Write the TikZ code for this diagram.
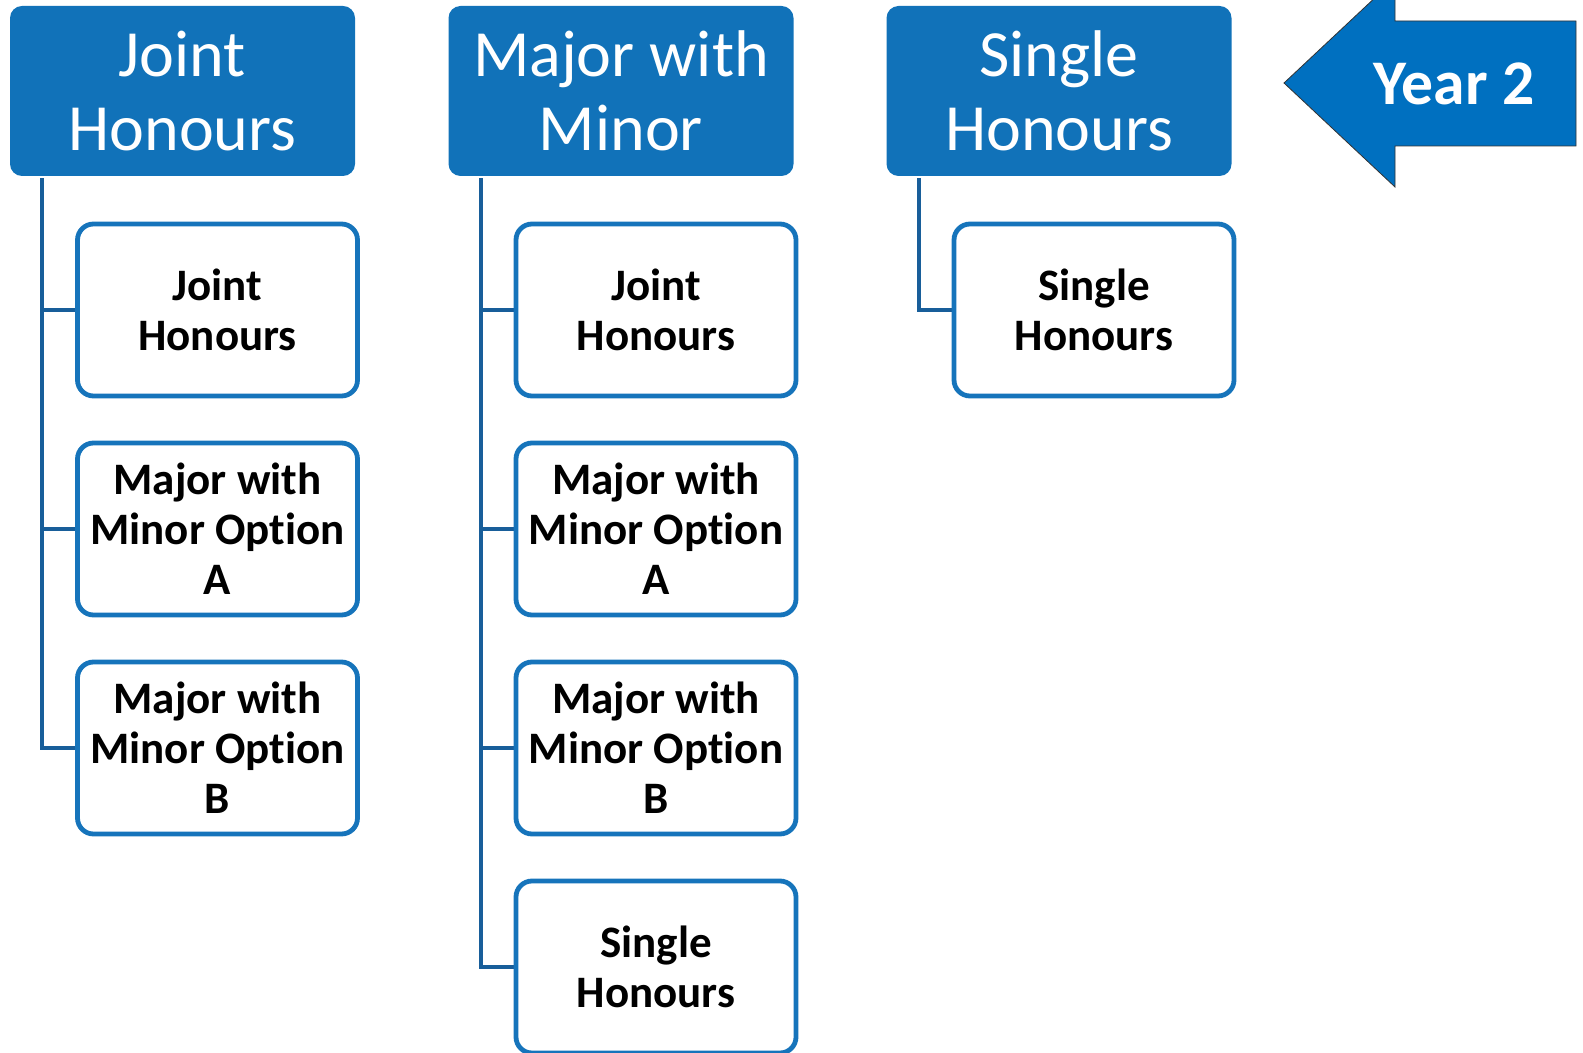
\documentclass[tikz,border=0pt]{standalone}
\usepackage{fontspec}
\setmainfont{Carlito}[Ligatures=NoCommon]
\usetikzlibrary{calc}

\definecolor{headblue}{RGB}{17,114,185}
\definecolor{boxblue}{RGB}{22,116,187}
\definecolor{lineblue}{RGB}{24,94,154}
\definecolor{arrowblue}{RGB}{0,112,192}

\begin{document}
\begin{tikzpicture}[x=0.5pt, y=-0.5pt,
	header/.style = {fill=headblue, text=white, rounded corners=6pt,
		minimum width=172.5pt, minimum height=85pt, align=center,
		inner sep=0pt, font=\fontsize{33}{37}\selectfont},
	option/.style = {draw=boxblue, line width=2.4pt, fill=white, rounded corners=8pt,
		minimum width=140pt, minimum height=86pt, align=center,
		inner sep=0pt, font=\bfseries\fontsize{22.5}{25}\selectfont},
	branch/.style = {draw=lineblue, line width=2pt}
]
\useasboundingbox (0, 0) rectangle (1583, 1053);
\clip (0, 0) rectangle (1583, 1053);

% year arrow
\draw[fill=arrowblue, draw=black!80, line width=0.4pt]
	(1284, 83) -- (1395, -21) -- (1395, 21) -- (1576, 21) --
	(1576, 146) -- (1395, 146) -- (1395, 187) -- cycle;
\node[text=white, font=\bfseries\fontsize{31.8}{37}\selectfont] (year) at (1454, 84) {Year 2};

% headers
\node[header] (jh) at (182.5, 91) {Joint\\Honours};
\node[header] (mm) at (621, 91) {Major with\\Minor};
\node[header] (sh) at (1059, 91) {Single\\Honours};

% branches
\draw[branch] ([xshift=16pt, yshift=-1pt]jh.south west) |- (217.5, 310);
\draw[branch] ([xshift=16pt, yshift=-1pt]jh.south west) |- (217.5, 529);
\draw[branch] ([xshift=16pt, yshift=-1pt]jh.south west) |- (217.5, 748);
\draw[branch] ([xshift=16.5pt, yshift=-1pt]mm.south west) |- (656, 310);
\draw[branch] ([xshift=16.5pt, yshift=-1pt]mm.south west) |- (656, 529);
\draw[branch] ([xshift=16.5pt, yshift=-1pt]mm.south west) |- (656, 748);
\draw[branch] ([xshift=16.5pt, yshift=-1pt]mm.south west) |- (656, 967);
\draw[branch] ([xshift=16.5pt, yshift=-1pt]sh.south west) |- (1094, 310);

% options
\node[option] (jh1) at (217.5, 310) {Joint\\Honours};
\node[option] (jh2) at (217.5, 529) {Major with\\Minor Option\\A};
\node[option] (jh3) at (217.5, 748) {Major with\\Minor Option\\B};

\node[option] (mm1) at (656, 310) {Joint\\Honours};
\node[option] (mm2) at (656, 529) {Major with\\Minor Option\\A};
\node[option] (mm3) at (656, 748) {Major with\\Minor Option\\B};
\node[option] (mm4) at (656, 967) {Single\\Honours};

\node[option] (sh1) at (1094, 310) {Single\\Honours};
\end{tikzpicture}
\end{document}
